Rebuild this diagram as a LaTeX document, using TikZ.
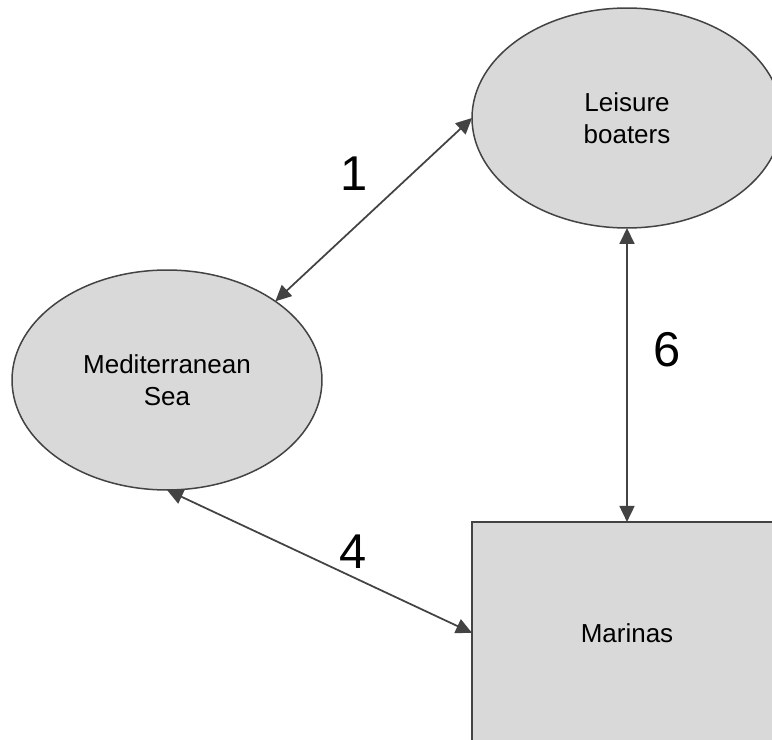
\documentclass[tikz,border=0pt]{standalone}
\usepackage{fontspec}
\setmainfont{Liberation Sans}
\usepackage{tikz}
\usetikzlibrary{shapes, arrows.meta}
\definecolor{boxgray}{HTML}{D9D9D9}
\definecolor{linegray}{HTML}{434343}
\tikzstyle{place} = [ellipse,minimum width=6.2cm,minimum height=4.4cm,inner sep=0pt,outer sep=0pt,text centered,align=center,draw=linegray,fill=boxgray,line width=0.03cm,font=\fontsize{14.8}{18.5}\selectfont]
\tikzstyle{site} = [rectangle,minimum width=6.2cm,minimum height=4.44cm,inner sep=0pt,outer sep=0pt,text centered,draw=linegray,fill=boxgray,line width=0.03cm,font=\fontsize{14.8}{18.5}\selectfont]
\tikzstyle{num} = [inner sep=0pt,text=black,font=\fontsize{27.8}{33}\selectfont]
\tikzstyle{arrow} = [linegray,line width=0.035cm,{Triangle[length=0.32cm,width=0.3cm]}-{Triangle[length=0.32cm,width=0.3cm]}]

\begin{document}
\begin{tikzpicture}[x=0.02cm, y=-0.02cm, node distance=10.3cm]
				\useasboundingbox (0,0) rectangle (772,740);
				\clip (0,0) rectangle (772,740);
				\node (leisure) [place] at (627,118) {Leisure\\boaters};
				\node (marinas) [site, below of=leisure] {Marinas};
				\node (sea) [place] at (167,380) {Mediterranean\\Sea};

				%connections
				\draw [arrow](leisure.west) -- node[num, xshift=-0.39cm, yshift=0.71cm]{1}(sea.36);
				\draw [arrow](leisure.south) -- node[num, xshift=0.8cm, yshift=0.5cm]{6}(marinas.north);
				\draw [arrow](sea.south) -- node[num, xshift=0.67cm, yshift=0.2cm]{4}(marinas.west);

			\end{tikzpicture}
\end{document}
